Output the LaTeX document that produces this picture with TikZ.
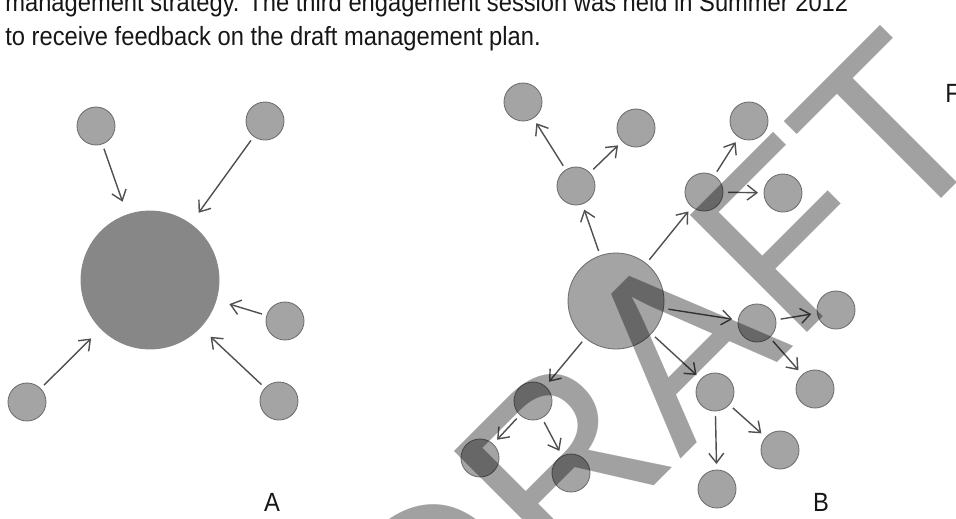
\documentclass[tikz,border=0pt]{standalone}
\usepackage{fontspec}
\setmainfont{Liberation Sans}
\newfontfamily\narrowfont[FakeStretch=0.9]{Liberation Sans}
\usetikzlibrary{arrows.meta}
\definecolor{PageInk}{HTML}{161616}
\definecolor{DotFill}{HTML}{A4A4A4}
\definecolor{DotRim}{HTML}{707070}
\definecolor{HubFill}{HTML}{878787}
\definecolor{LinkInk}{HTML}{505050}
\tikzset{
  every node/.style={text=PageInk},
  bodytext/.style={font=\narrowfont\fontsize{15}{19}\selectfont, inner sep=0pt, anchor=base west},
  dot/.style={circle, draw=DotRim, line width=0.5pt, fill=DotFill, minimum size=0.76cm, inner sep=0pt, outer sep=0pt},
  hub/.style={dot, draw=HubFill, fill=HubFill, minimum size=2.76cm},
  link/.style={-{Straight Barb[length=5.5pt,width=8.5pt]}, draw=LinkInk, line width=0.8pt, shorten <=0.1cm, shorten >=0.12cm},
  inward/.style={link, shorten >=0.28cm},
  stamp/.style={rotate=45, anchor=base west, inner sep=0pt, text=black, text opacity=0.37, font=\fontsize{137}{137}\selectfont},
}

\begin{document}
\begin{tikzpicture}[x=0.02cm,y=-0.02cm]
  \useasboundingbox (0,0) rectangle (956,518);
  \clip (0,0) rectangle (956,518);
  % running text above the figure
  \node[bodytext] (line1) at (5,11) {management strategy.  The third engagement session was held in Summer 2012};
  \node[bodytext] (line2) at (5,45) {to receive feedback on the draft management plan.};
  \node[bodytext] (edge) at (945,102) {F};
  % Panel A: everyone reports to one centre
  \node[hub] (hubA) at (150,280) {};
  \foreach \name/\x/\y in {a1/96/126, a2/265/121, a3/285/321, a4/279/401, a5/27/402}
    \node[dot] (\name) at (\x,\y) {};
  \foreach \k in {1,...,5}
    \draw[inward] (a\k) -- (hubA);
  \node[font=\narrowfont\fontsize{15}{18}\selectfont] (labA) at (272,502) {A};
  % Panel B: the centre passes it on, each contact passes it to two more
  \node[hub, draw=DotRim, fill=DotFill, minimum size=1.92cm] (hubB) at (616,301) {};
  \foreach \name/\x/\y in {b1/576/186, b11/523/102, b12/636/128,
                           b2/704/192, b21/749/121, b22/783/193,
                           b3/757/323, b31/836/310, b32/815/389,
                           b4/715/392, b41/780/450, b42/717/489,
                           b5/533/401, b51/480/458, b52/571/473}
    \node[dot] (\name) at (\x,\y) {};
  \foreach \k in {1,...,5} {
    \draw[link] (hubB) -- (b\k);
    \draw[link] (b\k) -- (b\k1);
    \draw[link] (b\k) -- (b\k2);
  }
  \node[font=\narrowfont\fontsize{15}{18}\selectfont] (labB) at (821,502) {B};
  % watermark over everything
  \node[stamp] (draft) at (434,706) {DRAFT};
\end{tikzpicture}
\end{document}
